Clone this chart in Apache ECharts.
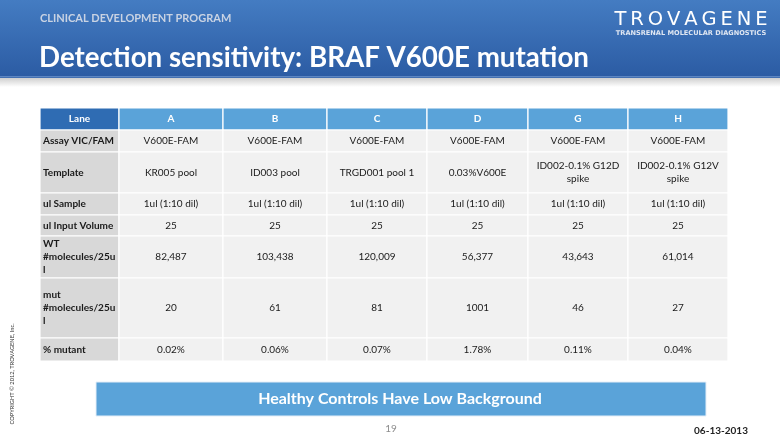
<!DOCTYPE html>
<html>
<head>
<meta charset="utf-8">
<script src="https://cdn.jsdelivr.net/npm/echarts@6/dist/echarts.min.js"></script>
<style>
html,body{margin:0;padding:0;background:#fff;}
#chart{width:780px;height:439px;}
</style>
</head>
<body>
<div id="chart"></div>
<script>
// ---- data ----
var headerLabel = 'Lane';
var lanes = ['A', 'B', 'C', 'D', 'G', 'H'];
var rowLabels = ['Assay VIC/FAM', 'Template', 'ul Sample', 'ul Input Volume', 'WT\n#molecules/25u\nl', 'mut\n#molecules/25u\nl', '% mutant'];
var assay = ['V600E-FAM', 'V600E-FAM', 'V600E-FAM', 'V600E-FAM', 'V600E-FAM', 'V600E-FAM'];
var template = ['KR005 pool', 'ID003 pool', 'TRGD001 pool 1', '0.03%V600E', 'ID002-0.1% G12D\nspike', 'ID002-0.1% G12V\nspike'];
var sample = ['1ul (1:10 dil)', '1ul (1:10 dil)', '1ul (1:10 dil)', '1ul (1:10 dil)', '1ul (1:10 dil)', '1ul (1:10 dil)'];
var inputVolume = [25, 25, 25, 25, 25, 25];
var wtMolecules = [82487, 103438, 120009, 56377, 43643, 61014];
var mutMolecules = [20, 61, 81, 1001, 46, 27];
var pctMutant = [0.02, 0.06, 0.07, 1.78, 0.11, 0.04];

// ---- layout (not data) ----
var colW = [79, 104, 104, 100, 101, 100, 100];
var rowH = [22, 22, 41, 22, 21, 42, 60, 23];
function edges(a){ var e=[0]; for(var i=0;i<a.length;i++) e.push(e[i]+a[i]); return e; }
var colE = edges(colW), rowE = edges(rowH);
var FONT = 'Lato, "Open Sans", sans-serif';

function fmtInt(v){ return v.toLocaleString('en-US'); }
var rowsText = [
  assay,
  template,
  sample,
  inputVolume.map(String),
  wtMolecules.map(fmtInt),
  mutMolecules.map(String),
  pctMutant.map(function(v){ return v.toFixed(2) + '%'; })
];

// cells: [col, row, text, kind]
var cells = [];
cells.push([0, 0, headerLabel, 'corner']);
lanes.forEach(function(l, i){ cells.push([i + 1, 0, l, 'head']); });
rowLabels.forEach(function(r, j){
  cells.push([0, j + 1, r, 'rowhead']);
  rowsText[j].forEach(function(t, i){ cells.push([i + 1, j + 1, t, 'cell']); });
});

var fills = { corner: '#2f6cb3', head: '#5aa3d9', rowhead: '#d8d8d8', cell: '#f1f1f1' };

function renderItem(params, api){
  var c = api.value(0), r = api.value(1);
  var d = cells[params.dataIndex];
  var kind = d[3];
  var p0 = api.coord([colE[c], rowE[r]]);
  var p1 = api.coord([colE[c + 1], rowE[r + 1]]);
  var x = Math.min(p0[0], p1[0]), y = Math.min(p0[1], p1[1]);
  var w = Math.abs(p1[0] - p0[0]), h = Math.abs(p1[1] - p0[1]);
  var isHead = kind === 'corner' || kind === 'head';
  var left = kind === 'rowhead';
  return {
    type: 'group',
    children: [
      { type: 'rect', shape: { x: x, y: y, width: w, height: h },
        style: { fill: fills[kind], stroke: '#ffffff', lineWidth: 1.2 } },
      { type: 'text',
        style: {
          text: d[2],
          x: left ? x + 3 : x + w / 2,
          y: y + h / 2,
          align: left ? 'left' : 'center',
          verticalAlign: 'middle',
          fontFamily: FONT,
          fontSize: 10,
          lineHeight: 13,
          fontWeight: (isHead || left) ? 'bold' : 'normal',
          fill: isHead ? '#ffffff' : '#1a1a1a'
        } }
    ]
  };
}

var chart = echarts.init(document.getElementById('chart'), null, { renderer: 'canvas' });
chart.setOption({
  animation: false,
  backgroundColor: '#ffffff',
  grid: { left: 40, top: 108, width: colE[colE.length - 1], height: rowE[rowE.length - 1] },
  xAxis: { type: 'value', min: 0, max: colE[colE.length - 1], show: false },
  yAxis: { type: 'value', min: 0, max: rowE[rowE.length - 1], inverse: true, show: false },
  series: [{
    type: 'custom',
    renderItem: renderItem,
    data: cells.map(function(d){ return [d[0], d[1]]; }),
    encode: { x: 0, y: 1 }
  }],
  graphic: [
    { type: 'rect', shape: { x: 0, y: 0, width: 780, height: 78 },
      style: { fill: new echarts.graphic.LinearGradient(0, 0, 0, 1, [
        { offset: 0, color: '#447cc2' }, { offset: 1, color: '#2b5ba3' }]) } },
    { type: 'rect', shape: { x: 0, y: 76, width: 780, height: 1.5 }, style: { fill: '#5d86c2' } },
    { type: 'rect', shape: { x: 0, y: 78, width: 780, height: 9 },
      style: { fill: new echarts.graphic.LinearGradient(0, 0, 0, 1, [
        { offset: 0, color: '#cfcfcf' }, { offset: 1, color: '#ffffff' }]) } },
    { type: 'text', style: { text: 'CLINICAL DEVELOPMENT PROGRAM', x: 40, y: 18, verticalAlign: 'middle',
        fontFamily: FONT, fontSize: 11, fontWeight: 'bold', fill: '#c9d3e3' } },
    { type: 'text', style: { text: 'Detection sensitivity: BRAF V600E mutation', x: 39, y: 58, verticalAlign: 'middle',
        fontFamily: FONT, fontSize: 27.7, fontWeight: 'bold', fill: '#ffffff' } },
    { type: 'text', style: { text: 'T\u2009R\u2009O\u2009V\u2009A\u2009G\u2009E\u2009N\u2009E', x: 691, y: 20, align: 'center', verticalAlign: 'middle',
        fontFamily: '"DejaVu Sans", sans-serif', fontSize: 19.5, fontWeight: 'normal', fill: '#ffffff' } },
    { type: 'text', style: { text: 'TRANSRENAL MOLECULAR DIAGNOSTICS', x: 691, y: 33, align: 'center', verticalAlign: 'middle',
        fontFamily: '"DejaVu Sans", sans-serif', fontSize: 6.6, fontWeight: 'bold', fill: '#dfe6f2' } },
    { type: 'rect', shape: { x: 96, y: 382, width: 610, height: 34 }, style: { fill: '#5aa3d9', stroke: '#e4eef8', lineWidth: 1 } },
    { type: 'text', style: { text: 'Healthy Controls Have Low Background', x: 400, y: 399, align: 'center', verticalAlign: 'middle',
        fontFamily: FONT, fontSize: 16, fontWeight: 'bold', fill: '#ffffff' } },
    { type: 'text', style: { text: '19', x: 391, y: 429, align: 'center', verticalAlign: 'middle',
        fontFamily: FONT, fontSize: 10, fill: '#8c8c8c' } },
    { type: 'text', style: { text: '06-13-2013', x: 721, y: 431, align: 'center', verticalAlign: 'middle',
        fontFamily: FONT, fontSize: 10, fontWeight: 'bold', fill: '#222222' } },
    { type: 'text', x: 12, y: 374, rotation: Math.PI / 2,
      style: { text: 'COPYRIGHT \u00A9 2012, TROVAGENE, Inc.', x: 0, y: 0, align: 'center', verticalAlign: 'middle',
        fontFamily: FONT, fontSize: 5.7, fill: '#333333' } }
  ]
});
</script>
</body>
</html>
